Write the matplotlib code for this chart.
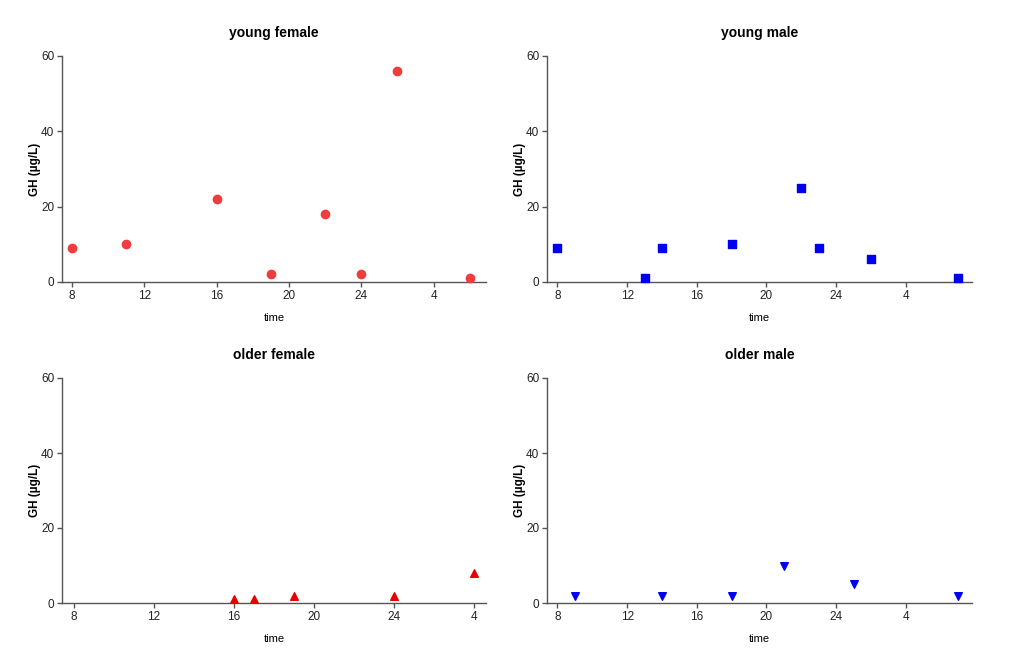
import matplotlib
matplotlib.use("Agg")
import matplotlib.pyplot as plt

plt.rcParams['font.family'] = ['Liberation Sans', 'DejaVu Sans']

# time of sampling (hours from midnight of day 1; 28 = 4 am next day)
yf_time = [8, 11, 16, 19, 22, 24, 26, 30]
yf_gh = [9, 10, 22, 2, 18, 2, 56, 1]

ym_time = [8, 13, 14, 18, 22, 23, 26, 31]
ym_gh = [9, 1, 9, 10, 25, 9, 6, 1]

of_time = [16, 17, 19, 24, 28]
of_gh = [1, 1, 2, 2, 8]

om_time = [9, 14, 18, 21, 25, 31]
om_gh = [2, 2, 2, 10, 5, 2]

xticks = [8, 12, 16, 20, 24, 28]
xtick_labels = ['8', '12', '16', '20', '24', '4']
yticks = [0, 20, 40, 60]

W, H = 1024, 669
fig = plt.figure(figsize=(W / 100, H / 100), dpi=100)

panels = [
    # title, x, y, marker, size, color, (left, right, top, bottom) px, xlim
    ('young female', yf_time, yf_gh, 'o', 36, '#f03c3c', (62, 486, 56, 282), (7.45, 30.9)),
    ('young male', ym_time, ym_gh, 's', 34, '#0000f0', (547, 972, 56, 282), (7.4, 31.8)),
    ('older female', of_time, of_gh, '^', 30, '#e80000', (62, 486, 378, 603), (7.4, 28.6)),
    ('older male', om_time, om_gh, 'v', 30, '#0000f0', (547, 972, 378, 603), (7.4, 31.8)),
]

spine_col = '#555555'
for title, x, y, mk, sz, col, (l, r, t, b), xl in panels:
    ax = fig.add_axes([l / W, 1 - b / H, (r - l) / W, (b - t) / H])
    ax.scatter(x, y, marker=mk, color=col, s=sz, zorder=3, clip_on=False)
    ax.set_xlim(*xl)
    ax.set_ylim(0, 60)
    ax.set_xticks(xticks)
    ax.set_xticklabels(xtick_labels)
    ax.set_yticks(yticks)
    for side in ['top', 'right']:
        ax.spines[side].set_visible(False)
    for side in ['left', 'bottom']:
        ax.spines[side].set_color(spine_col)
        ax.spines[side].set_linewidth(1.0)
    ax.tick_params(direction='out', length=3.5, width=1, color=spine_col,
                   labelsize=8.5, labelcolor='#222222', pad=2)
    ax.set_title(title, fontsize=10, fontweight='bold', pad=14)
    ax.set_xlabel('time', fontsize=8, labelpad=8)
    ax.set_ylabel('GH (µg/L)', fontsize=8.5, fontweight='bold', labelpad=0)

fig.savefig('out.png', dpi=100)
